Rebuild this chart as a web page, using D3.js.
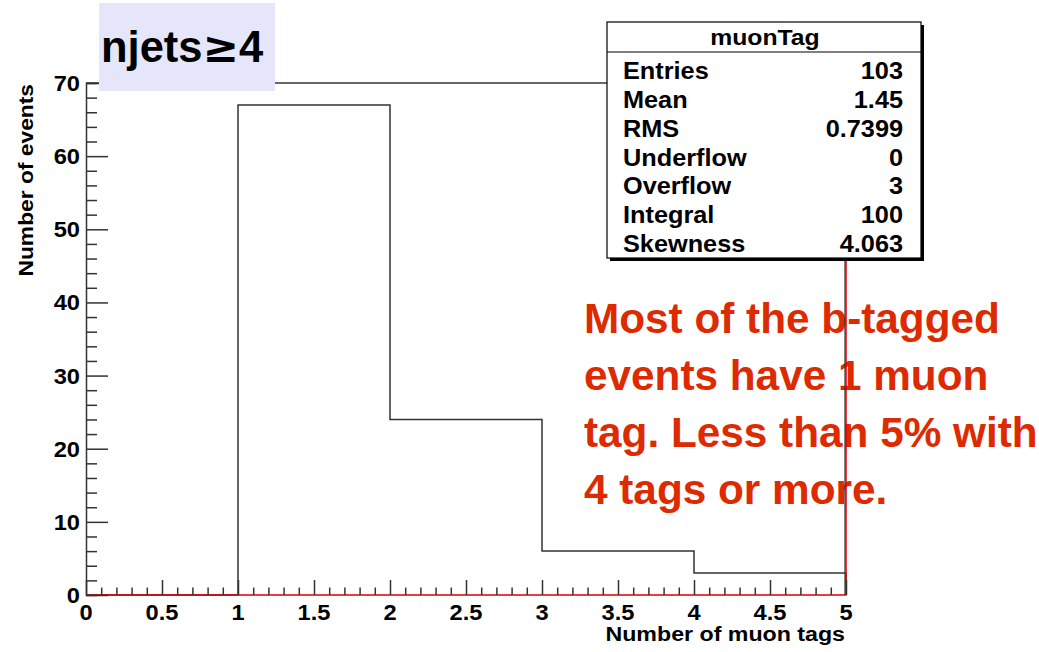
<!DOCTYPE html>
<html>
<head>
  <script type="text/javascript" src="https://cdn.jsdelivr.net/npm/d3@7"></script>
  <title>muonTag</title>
  <style>
    body { margin: 0; background: #fff; }
    svg text { font-family: "Liberation Sans", Arial, Helvetica, sans-serif; font-weight: bold; }
  </style>
</head>
<body>

<svg id="chart" width="1039" height="652"></svg>

<script>
  // histogram contents
  var binEdges = [0, 1, 2, 3, 4, 5];
  var binCounts = [0, 67, 24, 6, 3];

  var xTickLabels = [0, 0.5, 1, 1.5, 2, 2.5, 3, 3.5, 4, 4.5, 5];
  var yTickLabels = [0, 10, 20, 30, 40, 50, 60, 70];

  var statNames = ["Entries", "Mean", "RMS", "Underflow", "Overflow", "Integral", "Skewness"];
  var statValues = ["103", "1.45", "0.7399", "0", "3", "100", "4.063"];

  var noteLines = [
    "Most of the b-tagged",
    "events have 1 muon",
    "tag. Less than 5% with",
    "4 tags or more."
  ];

  var svg = d3.select("#chart");

  var x = d3.scaleLinear().domain([0, 5]).range([86, 846]);
  var y = d3.scaleLinear().domain([0, 70]).range([595, 83]);

  // the ROOT text comes out a little wide, so stretch it horizontally
  function place(sel, px, py, sx) {
    return sel.attr("transform", "translate(" + px + "," + py + ") scale(" + sx + ",1)");
  }

  // histogram outline
  var steps = [];
  binCounts.forEach(function(c, i) {
    steps.push([binEdges[i], c]);
    steps.push([binEdges[i + 1], c]);
  });
  steps.push([binEdges[binEdges.length - 1], 0]);

  var line = d3.line()
      .x(function(d) { return x(d[0]); })
      .y(function(d) { return y(d[1]); });

  svg.append("path")
      .attr("d", line(steps))
      .attr("fill", "none")
      .attr("stroke", "#333")
      .attr("stroke-width", 1.5);

  // red annotation
  var note = svg.append("text")
      .attr("x", 584)
      .attr("y", 333)
      .attr("font-size", 42.3)
      .attr("fill", "#dd2a00");
  note.selectAll("tspan")
      .data(noteLines)
    .enter().append("tspan")
      .attr("x", 584)
      .attr("dy", function(d, i) { return i === 0 ? 0 : 57; })
      .text(function(d) { return d; });

  // frame
  svg.append("line")
      .attr("x1", x(0)).attr("x2", x(5))
      .attr("y1", y(70)).attr("y2", y(70))
      .attr("stroke", "#333").attr("stroke-width", 1.5);
  svg.append("line")
      .attr("x1", x(5) - 1).attr("x2", x(5) - 1)
      .attr("y1", y(70)).attr("y2", y(0))
      .attr("stroke", "#333").attr("stroke-width", 1.2);

  // red overlay outline
  svg.append("path")
      .attr("d", line([[0, 0], [5, 0], [5, 70]]))
      .attr("fill", "none")
      .attr("stroke", "#e00000")
      .attr("stroke-width", 1.5);

  // y axis
  var yAxis = d3.axisLeft(y)
      .tickValues(d3.range(0, 71, 2))
      .tickSize(-11)
      .tickFormat("");
  var gy = svg.append("g").attr("transform", "translate(" + x(0) + ",0)").call(yAxis);
  gy.selectAll(".tick line")
      .attr("x2", function(d) { return d % 10 === 0 ? 22 : 11; })
      .attr("stroke", "#333").attr("stroke-width", 1.5);
  gy.select(".domain").attr("stroke", "#333").attr("stroke-width", 1.5);

  svg.selectAll(".ylab")
      .data(yTickLabels)
    .enter().append("text")
      .attr("class", "ylab")
      .attr("text-anchor", "end")
      .attr("font-size", 21.5)
      .each(function(d) { place(d3.select(this), 80, y(d) + 8, 1.1); })
      .text(function(d) { return d; });

  // x axis
  var xAxis = d3.axisBottom(x)
      .tickValues(d3.range(0, 51).map(function(d) { return d / 10; }))
      .tickSize(-7.5)
      .tickFormat("");
  var gx = svg.append("g").attr("transform", "translate(0," + y(0) + ")").call(xAxis);
  gx.selectAll(".tick line")
      .attr("y2", function(d) { return Math.abs(d * 2 - Math.round(d * 2)) < 1e-6 ? -15 : -7.5; })
      .attr("stroke", "#333").attr("stroke-width", 1.5);
  gx.select(".domain").remove();

  svg.selectAll(".xlab")
      .data(xTickLabels)
    .enter().append("text")
      .attr("class", "xlab")
      .attr("text-anchor", "middle")
      .attr("font-size", 21.5)
      .each(function(d) { place(d3.select(this), x(d), 620, 1.1); })
      .text(function(d) { return d; });

  // axis titles
  svg.append("text")
      .attr("transform", "translate(33,84) rotate(-90) scale(1.14,1)")
      .attr("text-anchor", "end")
      .attr("font-size", 20)
      .text("Number of events");

  place(svg.append("text"), 845, 641, 1.16)
      .attr("text-anchor", "end")
      .attr("font-size", 20)
      .text("Number of muon tags");

  // title box
  svg.append("rect")
      .attr("x", 99).attr("y", 3)
      .attr("width", 176).attr("height", 88)
      .attr("fill", "#e6e6fa");
  var title = svg.append("text")
      .attr("x", 101)
      .attr("y", 62)
      .attr("font-size", 43.5);
  title.append("tspan").text("njets");
  title.append("tspan").style("font-family", "'DejaVu Sans'").text("\u2265");
  title.append("tspan").text("4");

  // stats box
  var box = { x: 607, y: 22, w: 314, h: 236 };
  svg.append("rect")
      .attr("x", box.x + 3).attr("y", box.y + 3)
      .attr("width", box.w).attr("height", box.h)
      .attr("fill", "#000");
  svg.append("rect")
      .attr("x", box.x).attr("y", box.y)
      .attr("width", box.w).attr("height", box.h)
      .attr("fill", "#fff").attr("stroke", "#000").attr("stroke-width", 1.2);
  svg.append("line")
      .attr("x1", box.x).attr("x2", box.x + box.w)
      .attr("y1", 52).attr("y2", 52)
      .attr("stroke", "#000").attr("stroke-width", 1.2);
  place(svg.append("text"), box.x + box.w / 2 + 1, 45, 1.1)
      .attr("text-anchor", "middle")
      .attr("font-size", 22.5)
      .text("muonTag");

  var rowY = d3.scalePoint().domain(statNames).range([79, 252]);
  svg.selectAll(".sname")
      .data(statNames)
    .enter().append("text")
      .attr("font-size", 23)
      .each(function(d) { place(d3.select(this), 623, rowY(d), 1.1); })
      .text(function(d) { return d; });
  svg.selectAll(".sval")
      .data(statValues)
    .enter().append("text")
      .attr("text-anchor", "end")
      .attr("font-size", 23)
      .each(function(d, i) { place(d3.select(this), 903, rowY(statNames[i]), 1.1); })
      .text(function(d) { return d; });
</script>

</body>
</html>
